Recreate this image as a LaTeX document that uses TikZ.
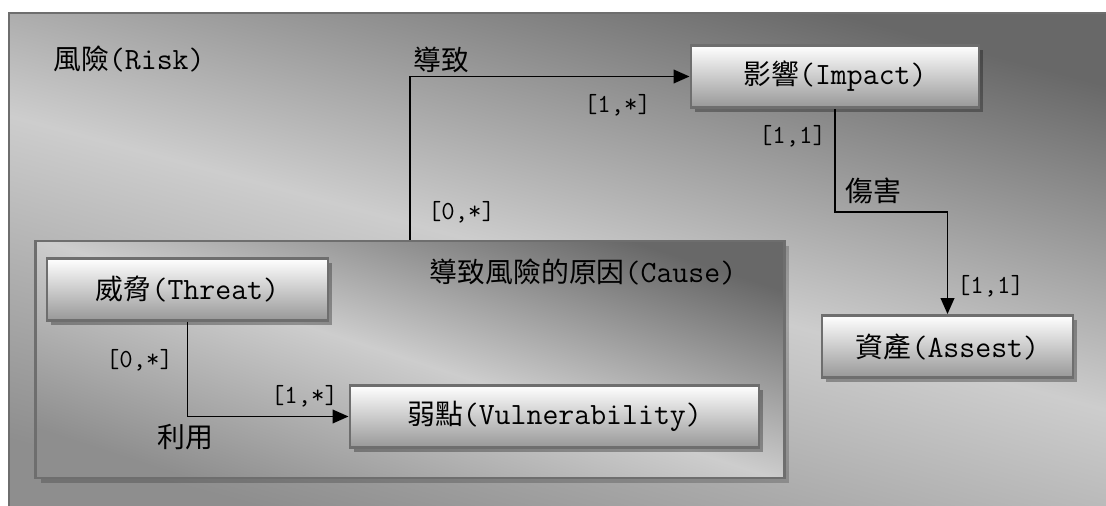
\documentclass[tikz,border=0pt]{standalone}
\usepackage{fontspec}
\usepackage{xcolor}
\usepackage{tikz}
\usetikzlibrary{arrows.meta,positioning,shadows}
\newfontfamily\cjk[Scale=0.9]{Noto Sans CJK TC}
\definecolor{edge}{HTML}{6E6E6E}
\definecolor{dark}{HTML}{686868}
\definecolor{light}{HTML}{CDCDCD}
\definecolor{lowleft}{HTML}{8E8E8E}
\definecolor{boxlow}{HTML}{989898}
\definecolor{ink}{HTML}{000000}
\tikzset{
  panel/.style={draw=edge, line width=2pt, top color=dark, bottom color=lowleft, middle color=light, shading angle=#1},
  panel/.default=-15,
  box/.style={draw=edge, line width=2pt, top color=white, bottom color=boxlow, minimum height=1.55cm, inner sep=0pt,
    font=\ttfamily\fontsize{22}{26}\selectfont,
    drop shadow={shadow xshift=0.11cm, shadow yshift=-0.11cm, fill=black, opacity=0.3}},
  link/.style={draw=ink, line width=1.4pt},
  arr/.style={link, -{Triangle[length=0.4cm, width=0.34cm]}},
  lab/.style={text=ink, font=\ttfamily\fontsize{22}{26}\selectfont, inner sep=0pt},
  mult/.style={text=ink, font=\ttfamily\fontsize{18.5}{22}\selectfont, inner sep=0pt},
}
\begin{document}
\begin{tikzpicture}[x=0.025cm, y=-0.025cm]
\useasboundingbox (0,0) rectangle (1106,506);
\draw[panel] (9,13) rectangle (1114,514);
\node[lab, anchor=west] (risk) at (53,59) {{\cjk 風險}(Risk)};

\node[panel=-18, minimum width=18.7cm, minimum height=5.925cm,
  drop shadow={shadow xshift=0.12cm, shadow yshift=-0.12cm, fill=black, opacity=0.2}] (cause) at (410,359.5) {};
\node[lab] (causetitle) at (583,272) {{\cjk 導致風險的原因}(Cause)};

\node[box, minimum width=7.025cm] (threat) at (187.5,289.5) {{\cjk 威脅}(Threat)};
\node[box, minimum width=10.225cm] (vuln) at (554.5,416.5) {{\cjk 弱點}(Vulnerability)};
\node[box, minimum width=7.2cm] (impact) at (835,76.5) {{\cjk 影響}(Impact)};
\node[box, minimum width=6.275cm] (asset) at (947.5,346.5) {{\cjk 資產}(Assest)};

% connectors
\draw[arr] (cause.north) |- (impact.west);
\coordinate (bend) at (impact.south |- 0,212);
\draw[arr] (impact.south) -- (bend) -| (asset.north);
\draw[arr] (threat.south) |- (vuln.west);

% labels
\node[lab] (cause2impact) at (441.5,60) {\cjk 導致};
\node[lab] (impact2asset) at (873.5,191) {\cjk 傷害};
\node[lab] (threat2vuln) at (185.5,437) {\cjk 利用};
\node[mult] (m1) at (461.5,212) {[0,*]};
\node[mult] (m2) at (617.5,105) {[1,*]};
\node[mult] (m3) at (792.5,136) {[1,1]};
\node[mult] (m4) at (990.5,286) {[1,1]};
\node[mult] (m5) at (139.5,360) {[0,*]};
\node[mult] (m6) at (304.5,396) {[1,*]};
\end{tikzpicture}
\end{document}
